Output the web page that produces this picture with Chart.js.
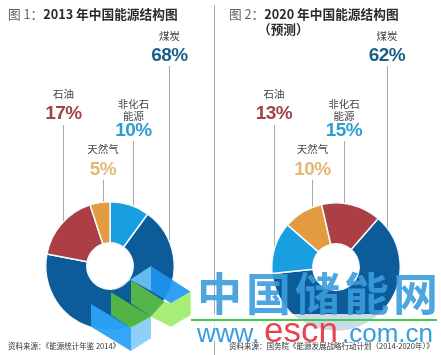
<!DOCTYPE html>
<html>
<head>
<meta charset="utf-8">
<script src="https://cdn.jsdelivr.net/npm/chart.js@4"></script>
<style>
  html, body { margin: 0; padding: 0; background: #fff; }
  #page { position: relative; width: 441px; height: 355px; overflow: hidden; font-family: "Noto Sans CJK SC", "Liberation Sans", sans-serif; }
  #page canvas { position: absolute; z-index: 2; }
  .title { position: absolute; z-index: 5; font-size: 12.7px; font-weight: 700; color: #2a2a2a; line-height: 15px; white-space: nowrap; }
  .title span { color: #666; font-weight: 400; }
  .name, .pct { position: absolute; z-index: 5; transform: translate(-50%, -50%); white-space: nowrap; text-align: center; }
  .name { font-size: 10.5px; color: #444; line-height: 12px; }
  .pct { font-family: "Liberation Sans", sans-serif; font-size: 19px; font-weight: 700; letter-spacing: -0.5px; }
  .lead { position: absolute; z-index: 1; width: 1px; background: #aaa; }
  #divider { position: absolute; z-index: 1; left: 214px; top: 5px; bottom: 0; width: 1px; background: #aaa; }
  #mark { position: absolute; left: 0; top: 0; z-index: 3; }
  .source { position: absolute; z-index: 6; top: 340px; font-size: 7.5px; line-height: 12px; color: #333; white-space: nowrap; }
</style>
</head>
<body>
<div id="page">
  <div id="divider"></div>
  <div class="title" style="left:8px;top:6px"><span>图 1：</span>2013 年中国能源结构图</div>
  <div class="title" style="left:229px;top:6px"><span>图 2：</span>2020 年中国能源结构图<br><span style="color:#2a2a2a;font-weight:700;margin-left:29px">（预测）</span></div>
  <canvas id="chart2013" width="140" height="140" style="left:40px;top:196px"></canvas>
  <canvas id="chart2020" width="140" height="140" style="left:266px;top:197px"></canvas>
  <svg id="mark" width="441" height="355">
    <rect x="191" y="314" width="250" height="27" fill="#fff" opacity="0.78"/>
    <g transform="translate(85,255) scale(0.3333)">
      <polygon points="198,33 317,110 258,145 198,108" fill="#1e96f2" opacity="0.9"/>
      <polygon points="78,112 198,33 198,108 138,75" fill="#6dbdf2" opacity="0.95"/>
      <polygon points="18,147 138,218 138,288 18,215" fill="#2ba2f7" opacity="0.95"/>
      <polygon points="138,218 198,185 198,250 138,288" fill="#8fd0fa"/>
      <polygon points="138,75 240,140 198,185 138,145" fill="#58b947" opacity="0.95"/>
      <polygon points="78,112 198,185 138,218 78,180" fill="#55b83f" opacity="0.95"/>
      <polygon points="240,140 258,145 317,110 317,180 258,215 198,185" fill="#a6ee76"/>
    </g>
    <g font-family="'Noto Sans CJK SC'" font-weight="700" font-size="45" fill="#3a9ddc" opacity="0.9">
      <text x="197" y="311">中</text>
      <text x="246" y="311">国</text>
      <text x="295" y="311">储</text>
      <text x="344" y="311">能</text>
      <text x="393" y="311">网</text>
    </g>
    <rect x="191" y="319" width="246" height="2" fill="#3ecf4a"/>
    <g font-family="'Liberation Sans'">
      <text x="197" y="342" font-size="26" fill="#3a9ddc">www.</text>
      <text x="264" y="342" font-size="35" fill="#e8444f">escn</text>
      <text x="342" y="342" font-size="26" fill="#3a9ddc">.com.cn</text>
    </g>
  </svg>
  <div class="source" style="left:8px">资料来源：《能源统计年鉴 2014》</div>
  <div class="source" style="left:229px">资料来源：国务院《能源发展战略行动计划（2014-2020年）》</div>
</div>
<script>
const categories = ['煤炭', '石油', '天然气', '非化石<br>能源'];
const colors = ['#0b5c99', '#ab3f45', '#e49b3f', '#179fe2'];
const textColors = ['#1d5f85', '#9e4350', '#e3b877', '#2b9fd0'];

// printed percentages
const shares2013 = [68, 17, 5, 10];
const shares2020 = [62, 13, 10, 15];

// slices clockwise, as drawn. in the 2020 pie the blue slice is the small one
// and the red the bigger one, the opposite of the printed labels
const slices2013 = [10, 68, 17, 5];
const sliceColors2013 = [colors[3], colors[0], colors[1], colors[2]];
const slices2020 = [62, 13, 10, 15];
const sliceColors2020 = [colors[0], colors[3], colors[2], colors[1]];

function makeDonut(id, values, sliceColors, rotation) {
  return new Chart(document.getElementById(id).getContext('2d'), {
    type: 'doughnut',
    data: {
      datasets: [{
        data: values,
        backgroundColor: sliceColors,
        borderColor: '#f4fbff',
        borderWidth: 1.5
      }]
    },
    options: {
      responsive: false,
      animation: false,
      rotation: rotation,
      cutout: '36%',
      layout: { padding: 5 },
      plugins: { legend: { display: false }, tooltip: { enabled: false } }
    }
  });
}

makeDonut('chart2013', slices2013, sliceColors2013, 0);
makeDonut('chart2020', slices2020, sliceColors2020, 41);

// label columns, same order as categories
const page = document.getElementById('page');
const labelRows = [[36, 55, 66], [94, 113, 125], [149, 169, 180], [110, 130, 141]]; // name y, percent y, line top
const columns2013 = [169.5, 63.5, 103, 133.5];
const lineEnds2013 = [245, 232, 215, 215];
const columns2020 = [387, 274, 312.5, 344];
const lineEnds2020 = [240, 258, 220, 220];

function addLabels(shares, columns, lineEnds) {
  shares.forEach(function(share, i) {
    const row = labelRows[i];
    const name = document.createElement('div');
    name.className = 'name';
    name.innerHTML = categories[i];
    name.style.left = columns[i] + 'px';
    name.style.top = row[0] + 'px';
    page.appendChild(name);

    const pct = document.createElement('div');
    pct.className = 'pct';
    pct.textContent = share + '%';
    pct.style.color = textColors[i];
    pct.style.left = columns[i] + 'px';
    pct.style.top = row[1] + 'px';
    page.appendChild(pct);

    const lead = document.createElement('div');
    lead.className = 'lead';
    lead.style.left = Math.floor(columns[i]) + 'px';
    lead.style.top = row[2] + 'px';
    lead.style.height = (lineEnds[i] - row[2]) + 'px';
    page.appendChild(lead);
  });
}

addLabels(shares2013, columns2013, lineEnds2013);
addLabels(shares2020, columns2020, lineEnds2020);
</script>
</body>
</html>
